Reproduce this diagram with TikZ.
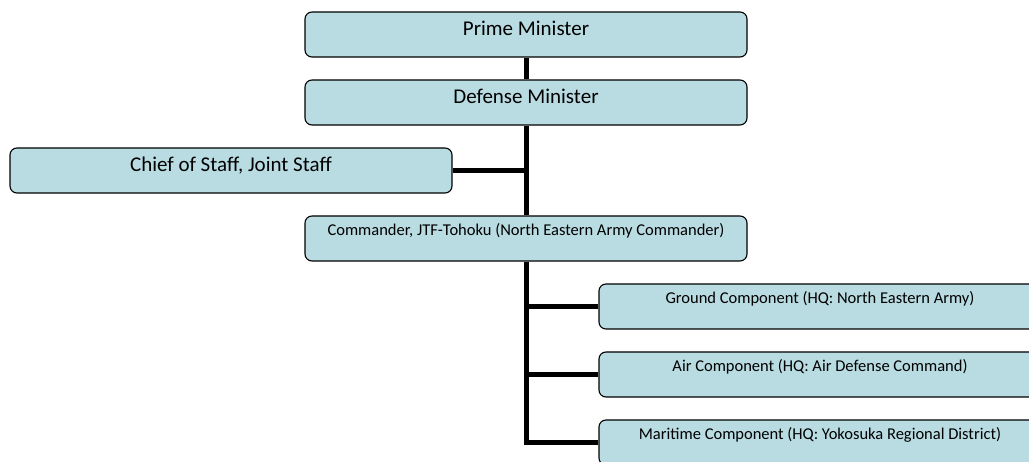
\documentclass[tikz,border=0pt]{standalone}
\usepackage{fontspec}
\setmainfont{Carlito}
\usepackage{tikz}
\definecolor{boxfill}{RGB}{185,220,226}
\tikzset{
  unitbox/.style={draw=black,line width=1.1pt,fill=boxfill,rounded corners=7pt,
    minimum width=442pt,minimum height=45pt,inner ysep=0pt,inner xsep=4pt},
  bigbox/.style={unitbox,font=\fontsize{21}{24}\selectfont,text height=24pt,text depth=21pt},
  smallbox/.style={unitbox,font=\fontsize{16.5}{19}\selectfont,text height=19.5pt,text depth=25.5pt},
  link/.style={line width=5pt,color=black}
}
\begin{document}
\begin{tikzpicture}[x=1pt,y=-1pt,line join=miter]
        \useasboundingbox (0,0) rectangle (1029,462);
        \clip (0,0) rectangle (1029,462);
        % upper chain
        \node[bigbox] (pm) at (526,34.5) {Prime Minister};
        \node[bigbox] (dm) at (526,102.5) {Defense Minister};
        \node[bigbox] (cos) at (231,170.5) {Chief of Staff, Joint Staff};
        \node[smallbox] (jtf) at (526,238.5) {Commander, JTF-Tohoku (North Eastern Army Commander)};
        % components
        \node[smallbox] (gnd) at (820,306.5) {Ground Component (HQ: North Eastern Army)};
        \node[smallbox] (air) at (820,374.5) {Air Component (HQ: Air Defense Command)};
        \node[smallbox] (mar) at (820,442.5) {Maritime Component (HQ: Yokosuka Regional District)};
        % connectors
        \draw[link] (pm.south) -- (dm.north);
        \draw[link] (dm.south) -- (jtf.north);
        \draw[link] (cos.east) -- (cos.east -| dm.south);
        \draw[link] (jtf.south) |- (gnd.west);
        \draw[link] (jtf.south) |- (air.west);
        \draw[link] (jtf.south) |- (mar.west);
      \end{tikzpicture}
\end{document}
